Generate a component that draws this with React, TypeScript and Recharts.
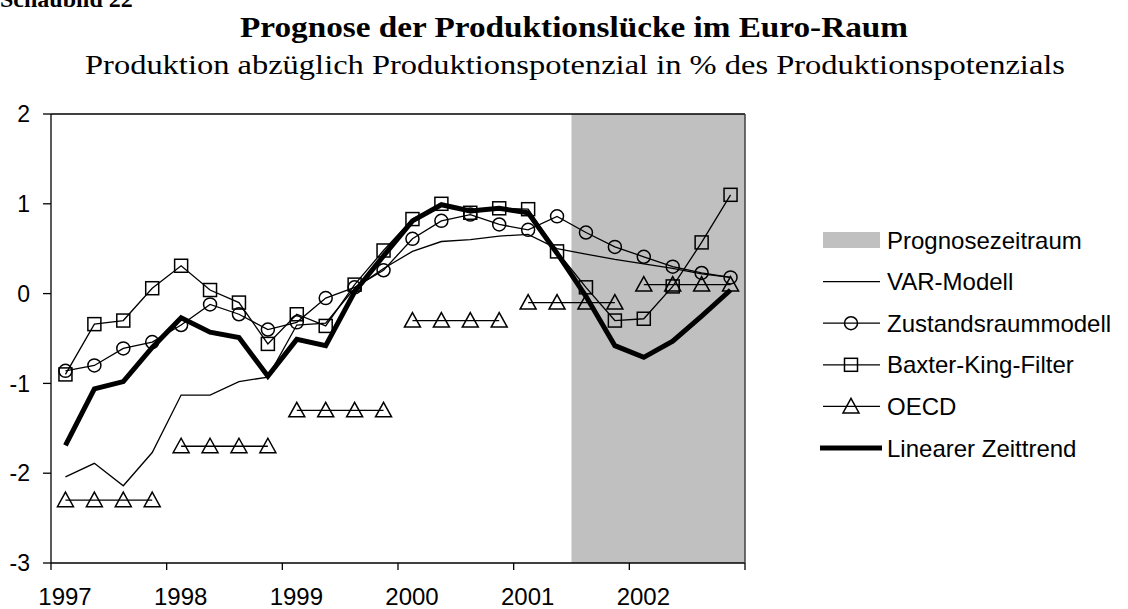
import React from "react";
import {
  LineChart, Line, XAxis, YAxis, ReferenceArea, ReferenceLine,
} from "recharts";

// quarterly values, 1997 Q1 .. 2002 Q4
const years = [1997, 1998, 1999, 2000, 2001, 2002];
const quarters = years.flatMap((y) => [`${y} Q1`, `${y} Q2`, `${y} Q3`, `${y} Q4`]);

const varModell = [-2.04, -1.89, -2.14, -1.77, -1.13, -1.13, -0.98, -0.93, -0.35, -0.33, 0.06, 0.28,
  0.47, 0.58, 0.6, 0.64, 0.66, 0.5, 0.44, 0.38, 0.33, 0.28, 0.22, 0.18];
const zustand = [-0.86, -0.8, -0.61, -0.54, -0.35, -0.12, -0.23, -0.4, -0.32, -0.05, 0.07, 0.26,
  0.61, 0.81, 0.88, 0.77, 0.71, 0.86, 0.68, 0.52, 0.41, 0.3, 0.23, 0.18];
const baxterKing = [-0.9, -0.34, -0.3, 0.06, 0.31, 0.04, -0.1, -0.56, -0.23, -0.36, 0.1, 0.48,
  0.83, 1.0, 0.9, 0.95, 0.94, 0.47, 0.07, -0.3, -0.28, 0.08, 0.57, 1.1];
const oecd = [-2.3, -2.3, -2.3, -2.3, -1.7, -1.7, -1.7, -1.7, -1.3, -1.3, -1.3, -1.3,
  -0.3, -0.3, -0.3, -0.3, -0.1, -0.1, -0.1, -0.1, 0.1, 0.1, 0.1, 0.1];
const zeittrend = [-1.69, -1.06, -0.98, -0.6, -0.27, -0.43, -0.49, -0.92, -0.51, -0.58, 0.02, 0.42,
  0.81, 0.99, 0.92, 0.95, 0.9, 0.45, -0.03, -0.58, -0.71, -0.53, -0.25, 0.04];

const yTicks = [-3, -2, -1, 0, 1, 2];
const xTicks = [0, 4, 8, 12, 16, 20, 24];
const forecastStart = 18; // 2001 Q3

const legendItems = [
  { name: "Prognosezeitraum", kind: "area" },
  { name: "VAR-Modell", kind: "line" },
  { name: "Zustandsraummodell", kind: "circle" },
  { name: "Baxter-King-Filter", kind: "square" },
  { name: "OECD", kind: "triangle" },
  { name: "Linearer Zeittrend", kind: "thick" },
];

const data = quarters.map((q, i) => {
  const row: Record<string, number | string> = {
    q,
    x: i + 0.5,
    var: varModell[i],
    zr: zustand[i],
    bk: baxterKing[i],
    trend: zeittrend[i],
  };
  row[`oecd${Math.floor(i / 4)}`] = oecd[i];
  return row;
});

const sans = "'Liberation Sans', Arial, sans-serif";
const serif = "'Liberation Serif', 'Times New Roman', serif";

const Circle = (p: any) =>
  p.cx == null ? null : <circle key={p.index} cx={p.cx} cy={p.cy} r={6.5} fill="none" stroke="#000" strokeWidth={1.5} />;
const Square = (p: any) =>
  p.cx == null ? null : <rect key={p.index} x={p.cx - 6.5} y={p.cy - 6.5} width={13} height={13} fill="none" stroke="#000" strokeWidth={1.5} />;
const Triangle = (p: any) =>
  p.cx == null ? null : (
    <path key={p.index} d={`M${p.cx},${p.cy - 8}L${p.cx + 8},${p.cy + 6.5}L${p.cx - 8},${p.cy + 6.5}Z`} fill="none" stroke="#000" strokeWidth={1.5} />
  );

const YearTick = (p: any) => {
  const v = p.payload.value;
  if (v >= 24) return null;
  return (
    <text x={p.x + 14} y={p.y + 33} textAnchor="middle" fontFamily={sans} fontSize={24} fill="#000">
      {years[v / 4]}
    </text>
  );
};

function LegendSymbol({ kind, cy }: { kind: string; cy: number }) {
  const x1 = 823, x2 = 880, mx = 851;
  if (kind === "area") return <rect x={x1} y={cy - 8} width={x2 - x1} height={16} fill="#c0c0c0" />;
  if (kind === "thick") return <line x1={x1 - 3} x2={x2 + 2} y1={cy} y2={cy} stroke="#000" strokeWidth={5} />;
  return (
    <g>
      <line x1={x1} x2={x2} y1={cy} y2={cy} stroke="#000" strokeWidth={1.3} />
      {kind === "circle" && <Circle cx={mx} cy={cy} />}
      {kind === "square" && <Square cx={mx} cy={cy} />}
      {kind === "triangle" && <Triangle cx={mx} cy={cy} />}
    </g>
  );
}

export default function App() {
  return (
    <div style={{ position: "absolute", left: 0, top: 0, width: 1128, height: 609, background: "#fff" }}>
      <LineChart
        width={1128}
        height={609}
        data={data}
        margin={{ top: 114, right: 338, bottom: 6, left: 6 }}
      >
        <XAxis
          dataKey="x"
          type="number"
          domain={[0, 24]}
          ticks={xTicks}
          interval={0}
          height={40}
          tickSize={7}
          tick={<YearTick />}
          axisLine={{ stroke: "#000", strokeWidth: 1.3 }}
          tickLine={{ stroke: "#000", strokeWidth: 1.3 }}
        />
        <YAxis
          yAxisId="left"
          domain={[-3, 2]}
          ticks={yTicks}
          width={45}
          tickSize={8}
          tickMargin={13}
          tick={{ fontFamily: sans, fontSize: 23, fill: "#000" }}
          axisLine={{ stroke: "#000", strokeWidth: 1.3 }}
          tickLine={{ stroke: "#000", strokeWidth: 1.3 }}
        />
        <YAxis
          yAxisId="right"
          orientation="right"
          domain={[-3, 2]}
          ticks={yTicks}
          width={45}
          tickSize={7}
          tickMargin={11}
          tick={{ fontFamily: sans, fontSize: 23, fill: "#000", textAnchor: "start" }}
          axisLine={{ stroke: "#404040", strokeWidth: 1.5 }}
          tickLine={{ stroke: "#000", strokeWidth: 1.3 }}
        />
        <ReferenceLine yAxisId="left" y={2} stroke="#000" strokeWidth={1.3} />
        <ReferenceArea yAxisId="left" x1={forecastStart} x2={24} fill="#c0c0c0" fillOpacity={1} stroke="none" />

        <Line yAxisId="left" dataKey="var" stroke="#000" strokeWidth={1.3} dot={false} isAnimationActive={false} />
        <Line yAxisId="left" dataKey="zr" stroke="#000" strokeWidth={1.3} dot={Circle} isAnimationActive={false} />
        <Line yAxisId="left" dataKey="bk" stroke="#000" strokeWidth={1.3} dot={Square} isAnimationActive={false} />
        {years.map((y, k) => (
          <Line
            key={y}
            yAxisId="left"
            dataKey={`oecd${k}`}
            stroke="#000"
            strokeWidth={1.3}
            dot={Triangle}
            connectNulls={false}
            isAnimationActive={false}
          />
        ))}
        <Line yAxisId="left" dataKey="trend" stroke="#000" strokeWidth={5} dot={false} strokeLinejoin="miter" isAnimationActive={false} />
      </LineChart>

      <svg width={1128} height={609} style={{ position: "absolute", left: 0, top: 0, pointerEvents: "none" }}>
        <text x={0} y={7} fontFamily={serif} fontWeight="bold" fontSize={24} fill="#000">Schaubild 22</text>
        <text x={240} y={37} fontFamily={serif} fontWeight="bold" fontSize={29} fill="#000"
          textLength={668} lengthAdjust="spacingAndGlyphs">
          Prognose der Produktionslücke im Euro-Raum
        </text>
        <text x={85} y={74} fontFamily={serif} fontSize={28} fill="#000"
          textLength={980} lengthAdjust="spacingAndGlyphs">
          Produktion abzüglich Produktionspotenzial in % des Produktionspotenzials
        </text>
        {legendItems.map((it, i) => {
          const cy = 240 + i * 41.6;
          return (
            <g key={it.name}>
              <LegendSymbol kind={it.kind} cy={cy} />
              <text x={887} y={cy + 8.5} fontFamily={sans} fontSize={24} fill="#000">{it.name}</text>
            </g>
          );
        })}
      </svg>
    </div>
  );
}
